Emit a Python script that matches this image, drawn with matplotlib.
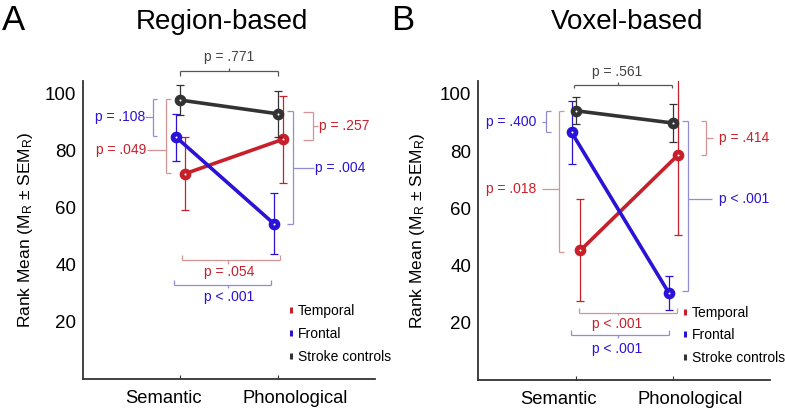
import matplotlib
matplotlib.use("Agg")
import matplotlib.pyplot as plt
from matplotlib.lines import Line2D

plt.rcParams['font.family'] = ['Liberation Sans', 'DejaVu Sans']
plt.rcParams['mathtext.default'] = 'regular'

# data
conditions = ["Semantic", "Phonological"]
groups = ["Temporal", "Frontal", "Stroke controls"]
colors = ["#c8202a", "#2a12d6", "#333333"]
bracket_colors = ["#d49494", "#918cd6", "#555555"]
offsets = [0.05, -0.04, 0.0]

region_means = [[72.0, 84.0], [84.7, 54.5], [97.8, 93.0]]
region_sem = [[12.8, 15.4], [8.1, 10.6], [5.4, 8.0]]
voxel_means = [[45.3, 78.5], [86.5, 30.4], [94.1, 89.8]]
voxel_sem = [[17.8, 28.0], [10.9, 6.0], [4.8, 6.7]]

# brackets: (orientation, pos, start, end, end_to, mid, mid_to, group, label, label_x, label_y, ha)
region_brackets = [
    ("h", 108.0, 1.00, 2.00, 106.4, 1.50, 109.2, 2, "p = .771", 1.50, 113.0, "center"),
    ("v", 0.72, 98.2, 85.1, 0.76, 91.8, 0.64, 1, "p = .108", 0.635, 91.8, "right"),
    ("v", 0.85, 98.2, 72.3, 0.90, 80.4, 0.655, 0, "p = .049", 0.645, 80.4, "right"),
    ("v", 2.36, 93.8, 83.8, 2.26, 88.8, 2.41, 0, "p = .257", 2.42, 88.8, "left"),
    ("v", 2.16, 94.0, 54.3, 2.10, 74.1, 2.37, 1, "p = .004", 2.38, 74.1, "left"),
    ("h", 41.8, 1.02, 2.02, 43.5, 1.49, 40.3, 0, "p = .054", 1.50, 37.4, "center"),
    ("h", 33.0, 0.94, 1.93, 34.7, 1.49, 31.9, 1, "p < .001", 1.50, 28.9, "center"),
]
voxel_brackets = [
    ("h", 103.2, 0.98, 1.99, 102.0, 1.44, 104.1, 2, "p = .561", 1.43, 107.6, "center"),
    ("v", 0.70, 93.9, 86.5, 0.75, 90.0, 0.66, 1, "p = .400", 0.60, 90.0, "right"),
    ("v", 0.83, 93.9, 44.8, 0.88, 66.8, 0.66, 0, "p = .018", 0.60, 66.8, "right"),
    ("v", 2.34, 90.4, 78.6, 2.29, 84.7, 2.41, 0, "p = .414", 2.48, 84.7, "left"),
    ("v", 2.16, 90.6, 31.1, 2.10, 63.2, 2.40, 1, "p < .001", 2.48, 63.2, "left"),
    ("h", 23.5, 1.04, 2.04, 25.3, 1.44, 22.6, 0, "p < .001", 1.43, 19.4, "center"),
    ("h", 15.8, 0.95, 1.96, 17.5, 1.44, 14.7, 1, "p < .001", 1.43, 10.8, "center"),
]

# condition labels sit a bit apart from their ticks
label_shift = [-0.175, 0.175]


def draw_bracket(ax, b):
    orient, pos, s, e, end_to, mid, mid_to, g, label, lx, ly, ha = b
    c = bracket_colors[g]
    kw = dict(color=c, lw=0.9, clip_on=False, solid_capstyle='butt')
    if orient == "v":
        ax.plot([pos, pos], [s, e], **kw)
        ax.plot([pos, end_to], [s, s], **kw)
        ax.plot([pos, end_to], [e, e], **kw)
        ax.plot([pos, mid_to], [mid, mid], **kw)
    else:
        ax.plot([s, e], [pos, pos], **kw)
        ax.plot([s, s], [pos, end_to], **kw)
        ax.plot([e, e], [pos, end_to], **kw)
        ax.plot([mid, mid], [pos, mid_to], **kw)
    tc = colors[g] if g < 2 else "#444444"
    ax.text(lx, ly, label, color=tc, fontsize=10, ha=ha, va="center", clip_on=False)


def panel(ax, means, sems, brackets, title, title_x, legend_x, ylab_x):
    for i in range(3):
        xs = [k + 1 + offsets[i] for k in range(2)]
        ax.errorbar(xs, means[i], yerr=sems[i], fmt='none', ecolor=colors[i],
                    elinewidth=0.9, capsize=3, capthick=0.9, zorder=3 + i)
        ax.plot(xs, means[i], color=colors[i], lw=2.6, marker='o', ms=5,
                mfc='white', mec=colors[i], mew=3.4, zorder=3 + i)
    for b in brackets:
        draw_bracket(ax, b)
    ax.set_xlim(0, 3)
    ax.set_ylim(0, 104.5)
    ax.set_xticks([1, 2])
    ax.set_xticklabels([])
    for k, name in enumerate(conditions):
        ax.text(k + 1 + label_shift[k], -0.064, name, transform=ax.get_xaxis_transform(),
                fontsize=13.2, ha='center', va='center')
    ax.set_yticks([20, 40, 60, 80, 100])
    ax.tick_params(axis='y', labelsize=13.5, length=0, pad=5)
    ax.tick_params(axis='x', direction='in', length=3, color='#333333')
    for s in ['top', 'right']:
        ax.spines[s].set_visible(False)
    for s in ['left', 'bottom']:
        ax.spines[s].set_color('#333333')
        ax.spines[s].set_linewidth(1.3)
    ax.set_ylabel('Rank Mean (M$_R$ ± SEM$_R$)', fontsize=12.5)
    ax.yaxis.set_label_coords(ylab_x, 0.5)
    ax.text(title_x, 1.198, title, transform=ax.transAxes, fontsize=20,
            ha='center', va='center')
    handles = [Line2D([], [], ls='none', marker='|', ms=5, mew=2.2, color=c) for c in colors]
    ax.legend(handles, groups, loc='upper left', bbox_to_anchor=legend_x,
              bbox_transform=ax.transData, frameon=False, fontsize=10,
              borderpad=0, borderaxespad=0, handlelength=0.5, handletextpad=0.25,
              labelspacing=0.63)


fig = plt.figure(figsize=(7.85, 4.08), dpi=100)
axA = fig.add_axes([0.1057, 0.0711, 0.372, 0.7304])
axB = fig.add_axes([0.6093, 0.0686, 0.3716, 0.733])

panel(axA, region_means, region_sem, region_brackets, "Region-based", 0.476, (2.10, 26.2), -0.165)
panel(axB, voxel_means, voxel_sem, voxel_brackets, "Voxel-based", 0.51, (2.087, 26.0), -0.175)

fig.text(14 / 785, 1 - 20 / 408, "A", fontsize=25, ha='center', va='center')
fig.text(403 / 785, 1 - 20 / 408, "B", fontsize=25, ha='center', va='center')

fig.savefig("out.png", dpi=100)
